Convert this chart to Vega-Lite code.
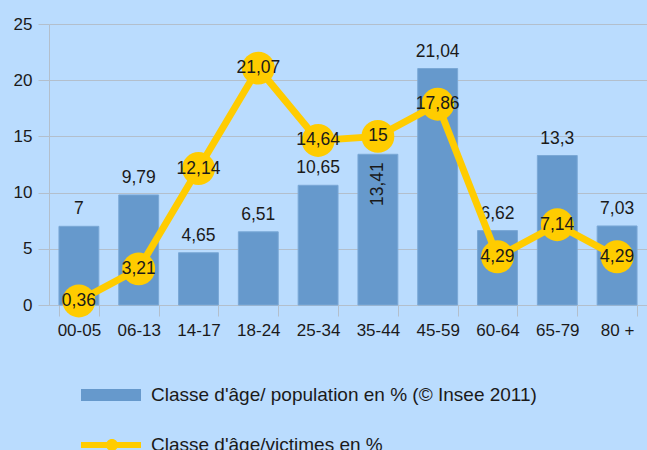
{
  "$schema": "https://vega.github.io/schema/vega-lite/v6.json",
  "autosize": "none",
  "width": 598,
  "height": 281,
  "padding": {"left": 49, "top": 24, "right": 0, "bottom": 145},
  "background": "#badcfe",
  "config": {
    "view": {"stroke": null},
    "font": "Liberation Sans",
    "axis": {"labelFont": "Liberation Sans", "labelFontSize": 17, "labelColor": "#1a1a1a", "domainColor": "#b3bfcc", "gridColor": "#b3bfcc", "tickColor": "#b3bfcc", "title": null},
    "legend": {
      "title": null, "orient": "none", "legendX": 33, "legendY": 356, "direction": "vertical",
      "padding": 0, "symbolSize": 900, "labelOffset": 39, "rowPadding": 25,
      "labelFont": "Liberation Sans", "labelFontSize": 19, "labelColor": "#1a1a1a", "labelLimit": 0
    }
  },
  "data": {"values": [
    {"age": "00-05", "series": "Classe d'âge/ population en % (© Insee 2011)", "value": 7, "label": "7"},
    {"age": "06-13", "series": "Classe d'âge/ population en % (© Insee 2011)", "value": 9.79, "label": "9,79"},
    {"age": "14-17", "series": "Classe d'âge/ population en % (© Insee 2011)", "value": 4.65, "label": "4,65"},
    {"age": "18-24", "series": "Classe d'âge/ population en % (© Insee 2011)", "value": 6.51, "label": "6,51"},
    {"age": "25-34", "series": "Classe d'âge/ population en % (© Insee 2011)", "value": 10.65, "label": "10,65"},
    {"age": "35-44", "series": "Classe d'âge/ population en % (© Insee 2011)", "value": 13.41, "label": "13,41"},
    {"age": "45-59", "series": "Classe d'âge/ population en % (© Insee 2011)", "value": 21.04, "label": "21,04"},
    {"age": "60-64", "series": "Classe d'âge/ population en % (© Insee 2011)", "value": 6.62, "label": "6,62"},
    {"age": "65-79", "series": "Classe d'âge/ population en % (© Insee 2011)", "value": 13.3, "label": "13,3"},
    {"age": "80 +", "series": "Classe d'âge/ population en % (© Insee 2011)", "value": 7.03, "label": "7,03"},
    {"age": "00-05", "series": "Classe d'âge/victimes en %", "value": 0.36, "label": "0,36"},
    {"age": "06-13", "series": "Classe d'âge/victimes en %", "value": 3.21, "label": "3,21"},
    {"age": "14-17", "series": "Classe d'âge/victimes en %", "value": 12.14, "label": "12,14"},
    {"age": "18-24", "series": "Classe d'âge/victimes en %", "value": 21.07, "label": "21,07"},
    {"age": "25-34", "series": "Classe d'âge/victimes en %", "value": 14.64, "label": "14,64"},
    {"age": "35-44", "series": "Classe d'âge/victimes en %", "value": 15, "label": "15"},
    {"age": "45-59", "series": "Classe d'âge/victimes en %", "value": 17.86, "label": "17,86"},
    {"age": "60-64", "series": "Classe d'âge/victimes en %", "value": 4.29, "label": "4,29"},
    {"age": "65-79", "series": "Classe d'âge/victimes en %", "value": 7.14, "label": "7,14"},
    {"age": "80 +", "series": "Classe d'âge/victimes en %", "value": 4.29, "label": "4,29"}
  ]},
  "encoding": {
    "x": {"field": "age", "type": "nominal", "sort": null,
      "scale": {"paddingInner": 0.3333, "paddingOuter": 0.1667},
      "axis": {"orient": "bottom", "labelAngle": 0, "ticks": true, "tickBand": "extent", "tickSize": 11, "labelPadding": 6, "domain": true, "grid": false}},
    "y": {"field": "value", "type": "quantitative",
      "scale": {"domain": [0, 25], "nice": false},
      "axis": {"values": [0, 5, 10, 15, 20, 25], "grid": true, "tickSize": 11, "labelPadding": 6, "domain": true}}
  },
  "layer": [
    {
      "transform": [{"filter": "datum.series != 'Classe d\\'âge/victimes en %'"}],
      "mark": {"type": "bar", "color": "#6699cc", "stroke": "#7aa8d6", "strokeWidth": 1},
      "encoding": {
        "color": {"field": "series", "type": "nominal",
          "scale": {"domain": ["Classe d'âge/ population en % (© Insee 2011)", "Classe d'âge/victimes en %"], "range": ["#6699cc", "#ffcc00"]},
          "legend": {
            "encode": {"symbols": {"update": {
              "shape": {"signal": "datum.value == 'Classe d\\'âge/victimes en %' ? 'M-1.067,-0.2 L2.933,-0.2 L2.933,0.2 L-1.067,0.2 Z M0.6,0 A0.4,0.4 0 1,1 1.4,0 A0.4,0.4 0 1,1 0.6,0 Z' : 'M-1.067,-0.4 L2.933,-0.4 L2.933,0.4 L-1.067,0.4 Z'"},
              "fill": {"signal": "datum.value == 'Classe d\\'âge/victimes en %' ? '#ffcc00' : '#6699cc'"},
              "stroke": {"value": "transparent"},
              "strokeWidth": {"value": 0},
              "opacity": {"value": 1}
            }}}
          }}
      }
    },
    {
      "transform": [{"filter": "datum.series != 'Classe d\\'âge/victimes en %' && datum.age != '35-44'"}],
      "mark": {"type": "text", "baseline": "bottom", "dy": -8, "fontSize": 17.5, "font": "Liberation Sans", "color": "#1a1a1a"},
      "encoding": {"text": {"field": "label"}}
    },
    {
      "transform": [{"filter": "datum.series != 'Classe d\\'âge/victimes en %' && datum.age == '35-44'"}],
      "mark": {"type": "text", "angle": 270, "align": "right", "baseline": "middle", "dx": -8, "fontSize": 17.5, "font": "Liberation Sans", "color": "#1a1a1a"},
      "encoding": {"text": {"field": "label"}}
    },
    {
      "transform": [{"filter": "datum.series == 'Classe d\\'âge/victimes en %'"}],
      "mark": {"type": "line", "strokeWidth": 7},
      "encoding": {"color": {"field": "series", "type": "nominal",
          "legend": {
            "encode": {"symbols": {"update": {
              "shape": {"signal": "datum.value == 'Classe d\\'âge/victimes en %' ? 'M-1.067,-0.2 L2.933,-0.2 L2.933,0.2 L-1.067,0.2 Z M0.6,0 A0.4,0.4 0 1,1 1.4,0 A0.4,0.4 0 1,1 0.6,0 Z' : 'M-1.067,-0.4 L2.933,-0.4 L2.933,0.4 L-1.067,0.4 Z'"},
              "fill": {"signal": "datum.value == 'Classe d\\'âge/victimes en %' ? '#ffcc00' : '#6699cc'"},
              "stroke": {"value": "transparent"},
              "strokeWidth": {"value": 0},
              "opacity": {"value": 1}
            }}}
          }}}
    },
    {
      "transform": [{"filter": "datum.series == 'Classe d\\'âge/victimes en %'"}],
      "mark": {"type": "point", "filled": true, "size": 1080, "opacity": 1, "color": "#ffcc00"},
      "encoding": {}
    },
    {
      "transform": [{"filter": "datum.series == 'Classe d\\'âge/victimes en %'"}],
      "mark": {"type": "text", "baseline": "middle", "fontSize": 17.5, "font": "Liberation Sans", "color": "#1a1a1a"},
      "encoding": {"text": {"field": "label"}}
    }
  ]
}
